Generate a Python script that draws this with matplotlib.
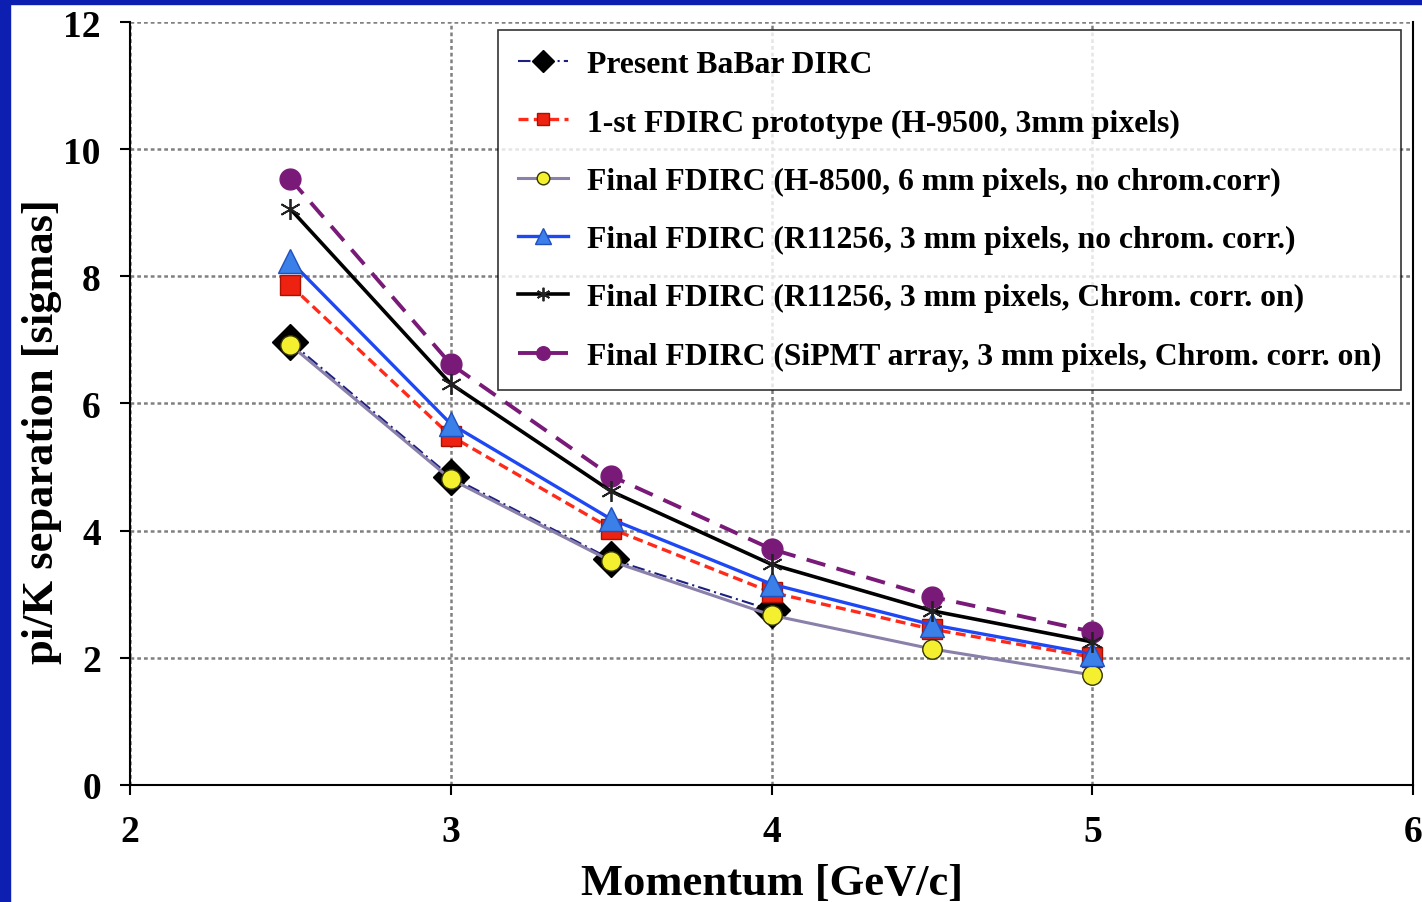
import matplotlib
matplotlib.use('Agg')
import matplotlib.pyplot as plt
from matplotlib.patches import Rectangle

plt.rcParams['font.family'] = ['Liberation Serif', 'DejaVu Serif']
plt.rcParams['font.weight'] = 'bold'

momentum = [2.5, 3.0, 3.5, 4.0, 4.5, 5.0]
babar_p = [2.5, 3.0, 3.5, 4.0]
babar = [6.97, 4.85, 3.55, 2.75]
proto = [7.86, 5.49, 4.03, 3.03, 2.45, 2.01]
h8500 = [6.92, 4.81, 3.52, 2.67, 2.14, 1.73]
r11256 = [8.24, 5.68, 4.18, 3.16, 2.52, 2.06]
r11256_chrom = [9.06, 6.31, 4.62, 3.47, 2.74, 2.25]
sipmt = [9.53, 6.62, 4.86, 3.71, 2.96, 2.41]

labels = ['Present BaBar DIRC',
          '1-st FDIRC prototype (H-9500, 3mm pixels)',
          'Final FDIRC (H-8500, 6 mm pixels, no chrom.corr)',
          'Final FDIRC (R11256, 3 mm pixels, no chrom. corr.)',
          'Final FDIRC (R11256, 3 mm pixels, Chrom. corr. on)',
          'Final FDIRC (SiPMT array, 3 mm pixels, Chrom. corr. on)']

fig = plt.figure(figsize=(14.22, 9.03), dpi=100)
ax = fig.add_axes([0.0914, 0.1296, 0.9023, 0.8449])

ax.plot(babar_p, babar, color='#1c2080', ls=(0, (6, 2, 1, 2)), lw=1.5,
        marker='D', ms=18, mfc='black', mec='black', label=labels[0], zorder=3)
ax.plot(momentum, proto, color='#ff2a1a', ls=(0, (3, 1.6)), lw=2.4,
        marker='s', ms=14, mfc='#ee2211', mec='#aa1100', mew=1, label=labels[1], zorder=4)
ax.plot(momentum, h8500, color='#8a80aa', ls='-', lw=2.2,
        marker='o', ms=14, mfc='#f4f030', mec='#333300', mew=1, label=labels[2], zorder=5)
ax.plot(momentum, r11256, color='#1f48f5', ls='-', lw=2.4,
        marker='^', ms=17, mfc='#3a80e8', mec='#2050c0', mew=1, label=labels[3], zorder=6)
ax.plot(momentum, r11256_chrom, color='black', ls='-', lw=2.6,
        marker=(6, 2, 0), ms=15, mec='#222222', mew=1.3, label=labels[4], zorder=8)
ax.plot(momentum, sipmt, color='#7a1a78', ls=(0, (5, 3)), lw=2.8,
        marker='o', ms=15, mfc='#7a1a78', mec='#7a1a78', label=labels[5], zorder=7)

ax.set_xlim(2, 6)
ax.set_ylim(0, 12)
ax.set_xticks([2, 3, 4, 5, 6])
ax.set_yticks([0, 2, 4, 6, 8, 10, 12])
ax.grid(True, color='#808080', ls=(0, (1.5, 1.2)), lw=1.8)
ax.set_axisbelow(True)
for s in ['left', 'bottom', 'right']:
    ax.spines[s].set_linewidth(1.5)
ax.spines['top'].set_visible(False)
ax.tick_params(axis='both', direction='out', length=7, width=1.5, labelsize=27)
ax.tick_params(axis='x', pad=14)
ax.tick_params(axis='y', pad=14)
ax.yaxis.set_ticks_position('left')
ax.xaxis.set_ticks_position('bottom')

ax.set_xlabel('Momentum [GeV/c]', fontsize=32, fontweight='bold', labelpad=10)
ax.set_ylabel('pi/K separation [sigmas]', fontsize=32, fontweight='bold')
ax.yaxis.set_label_coords(-0.053, 0.464)

leg = ax.legend(loc='upper right', bbox_to_anchor=(0.991, 0.989), borderaxespad=0,
                fontsize=22.8, frameon=True, fancybox=False, edgecolor='black',
                handlelength=1.6, handletextpad=0.6, labelspacing=0.92,
                borderpad=0.62, markerscale=0.65)
leg.get_frame().set_linewidth(1.2)
leg.set_zorder(10)

# blue slide border
fig.patches.append(Rectangle((0, 0), 10 / 1422, 1, transform=fig.transFigure,
                             color='#0c1fb0', zorder=20))
fig.patches.append(Rectangle((0, 1 - 5 / 903), 1, 5 / 903, transform=fig.transFigure,
                             color='#0c1fb0', zorder=20))

fig.savefig('out.png', dpi=100)
